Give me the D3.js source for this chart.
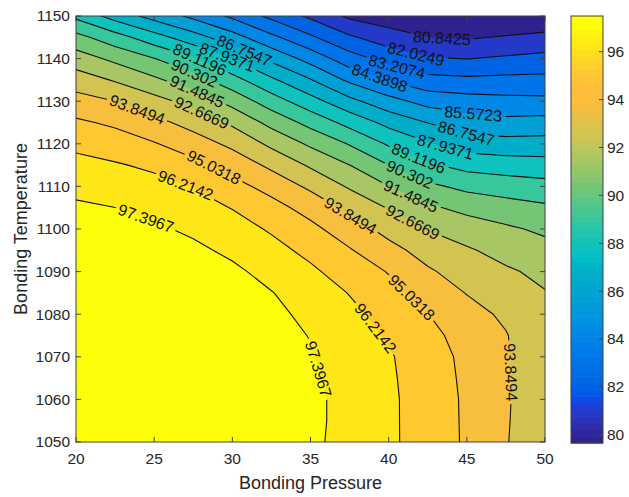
<!DOCTYPE html>
<meta charset="utf-8">
<script src="https://d3js.org/d3.v7.min.js"></script>
<style>
  body { margin: 0; background: #fff; }
  text { font-family: "Liberation Sans", Arial, Helvetica, sans-serif; fill: #262626; }
</style>
<div id="chart"></div>
<script>

// grid: columns = pressure, rows = temperature (top row first)
var pressures = [20, 22.5, 25, 27.5, 30, 32.5, 35, 37.5, 40, 42.5, 45, 47.5, 50];
var temperatures = [1150, 1145, 1140, 1135, 1130, 1125, 1120, 1115, 1110, 1105, 1100,
                    1095, 1090, 1085, 1080, 1075, 1070, 1065, 1060, 1055, 1050];
var zRows = [
  [88.85, 87.45, 86.32, 85.30, 84.17, 82.91, 81.80, 80.62, 80.20, 79.95, 79.80, 79.72, 79.68],
  [90.67, 89.62, 88.42, 87.23, 86.05, 84.67, 83.39, 82.20, 81.37, 80.85, 80.71, 80.94, 81.22],
  [92.05, 91.20, 90.33, 89.27, 87.90, 86.47, 85.12, 83.70, 82.78, 82.13, 82.00, 82.19, 82.35],
  [93.25, 92.56, 91.70, 90.83, 89.56, 88.15, 86.82, 85.33, 84.31, 83.57, 83.45, 83.51, 83.55],
  [94.31, 93.85, 93.08, 92.25, 91.08, 89.69, 88.40, 87.08, 85.99, 85.14, 84.88, 84.73, 84.67],
  [95.22, 94.83, 94.20, 93.41, 92.45, 91.12, 89.92, 88.72, 87.58, 86.72, 86.10, 85.90, 86.01],
  [95.96, 95.62, 95.11, 94.42, 93.58, 92.41, 91.28, 90.22, 88.97, 88.05, 87.36, 87.19, 87.22],
  [96.55, 96.32, 96.00, 95.36, 94.58, 93.59, 92.50, 91.49, 90.30, 89.30, 88.72, 88.52, 88.40],
  [97.06, 96.86, 96.58, 96.17, 95.43, 94.63, 93.62, 92.53, 91.51, 90.55, 90.00, 89.75, 89.53],
  [97.59, 97.40, 97.08, 96.68, 96.17, 95.43, 94.61, 93.55, 92.59, 91.69, 91.15, 90.78, 90.50],
  [97.65, 97.65, 97.58, 97.18, 96.67, 96.09, 95.33, 94.41, 93.47, 92.62, 92.10, 91.67, 91.27],
  [97.65, 97.65, 97.65, 97.65, 97.15, 96.56, 95.93, 95.12, 94.22, 93.40, 92.80, 92.28, 91.87],
  [97.65, 97.65, 97.65, 97.65, 97.64, 97.00, 96.41, 95.70, 94.97, 94.00, 93.35, 92.82, 92.40],
  [97.65, 97.65, 97.65, 97.65, 97.65, 97.44, 96.82, 96.17, 95.40, 94.61, 93.80, 93.20, 92.72],
  [97.65, 97.65, 97.65, 97.65, 97.65, 97.65, 97.14, 96.49, 95.79, 95.05, 94.32, 93.62, 92.78],
  [97.65, 97.65, 97.65, 97.65, 97.65, 97.65, 97.37, 96.74, 96.09, 95.34, 94.62, 93.92, 92.82],
  [97.65, 97.65, 97.65, 97.65, 97.65, 97.65, 97.46, 96.89, 96.33, 95.56, 94.76, 93.97, 92.85],
  [97.65, 97.65, 97.65, 97.65, 97.65, 97.65, 97.56, 96.96, 96.38, 95.63, 94.81, 94.00, 92.86],
  [97.65, 97.65, 97.65, 97.65, 97.65, 97.65, 97.65, 97.04, 96.42, 95.67, 94.86, 94.00, 92.86],
  [97.65, 97.65, 97.65, 97.65, 97.65, 97.65, 97.65, 97.04, 96.42, 95.68, 94.87, 93.97, 92.85],
  [97.65, 97.65, 97.65, 97.65, 97.65, 97.65, 97.62, 97.01, 96.42, 95.69, 94.88, 93.93, 92.83]
];

var levels = [80.8425, 82.0249, 83.2074, 84.3898, 85.5723, 86.7547, 87.9371, 89.1196,
              90.302, 91.4845, 92.6669, 93.8494, 95.0318, 96.2142, 97.3967];

// [level, pressure, temperature] where each inline label sits
var labelSpots = [
  [80.8425, 43.41, 1145.3], [82.0249, 41.75, 1141.1], [83.2074, 40.47, 1137.3],
  [84.3898, 39.32, 1134.3], [85.5723, 45.39, 1126.3],
  [86.7547, 30.81, 1142.3], [86.7547, 44.95, 1122.3],
  [87.9371, 29.72, 1140.8], [87.9371, 43.60, 1119.0],
  [89.1196, 27.93, 1139.9], [89.1196, 41.81, 1115.7],
  [90.302, 27.61, 1136.9], [90.302, 41.30, 1112.4],
  [91.4845, 27.74, 1132.2], [91.4845, 41.37, 1107.3],
  [92.6669, 28.12, 1127.9], [92.6669, 41.49, 1101.2],
  [93.8494, 23.97, 1128.6], [93.8494, 37.59, 1103.3], [93.8494, 47.95, 1066.4],
  [95.0318, 28.89, 1115.0], [95.0318, 41.49, 1084.0],
  [96.2142, 27.04, 1110.6], [96.2142, 39.25, 1077.0],
  [97.3967, 24.48, 1102.6], [97.3967, 35.48, 1067.1]
];

var xTicks = [20, 25, 30, 35, 40, 45, 50];
var yTicks = [1050, 1060, 1070, 1080, 1090, 1100, 1110, 1120, 1130, 1140, 1150];
var cbTicks = [80, 82, 84, 86, 88, 90, 92, 94, 96];
var colorRange = [79.66, 97.49];

var parula = ["#352a87","#363093","#3637a0","#353dad","#3243ba","#2c4ac7","#2053d4","#0f5cdd",
  "#0363e1","#0268e1","#046de0","#0871de","#0d75dc","#1079da","#127dd8","#1481d6",
  "#1485d4","#1389d3","#108ed2","#0c93d2","#0998d1","#079ccf","#06a0cd","#06a4ca",
  "#06a7c6","#07a9c2","#0aacbe","#0faeb9","#15b1b4","#1db3af","#25b5a9","#2eb7a4",
  "#38b99e","#42bb98","#4dbc92","#59bd8c","#65be86","#71bf80","#7cbf7b","#87bf77",
  "#92bf73","#9cbf6f","#a5be6b","#aebe67","#b7bd64","#c0bc60","#c8bc5d","#d1bb59",
  "#d9ba56","#e1b952","#e9b94e","#f1b94a","#f8bb44","#fdbe3d","#ffc337","#fec832",
  "#fcce2e","#fad32a","#f7d826","#f5de21","#f5e41d","#f5eb18","#f6f313","#f9fb0e"];

// the printed figure looks a little more saturated than plain parula
var palette = parula.map(function(c) {
  var h = d3.hsl(c);
  h.s = Math.min(1, h.s * 1.2);
  return h.formatHex();
});

var W = 629, H = 497;
var x = d3.scaleLinear().domain([20, 50]).range([76, 545]);
var y = d3.scaleLinear().domain([1050, 1150]).range([442, 16]);

function colorFor(v) {
  var i = Math.floor((v - colorRange[0]) / (colorRange[1] - colorRange[0]) * palette.length);
  return palette[Math.max(0, Math.min(palette.length - 1, i))];
}

var svg = d3.select("#chart").append("svg").attr("width", W).attr("height", H);
var defs = svg.append("defs");
defs.append("clipPath").attr("id", "plotClip").append("rect")
  .attr("x", x(20)).attr("y", y(1150))
  .attr("width", x(50) - x(20)).attr("height", y(1050) - y(1150));

// contour grid coords -> pixels (value index i sits at coord i + 0.5)
var nx = pressures.length, ny = temperatures.length;
var dp = pressures[1] - pressures[0], dt = temperatures[0] - temperatures[1];
function gridToPx(pt) {
  return [x(pressures[0] + (pt[0] - 0.5) * dp), y(temperatures[0] - (pt[1] - 0.5) * dt)];
}
var path = d3.geoPath(d3.geoTransform({
  point: function(px, py) { var p = gridToPx([px, py]); this.stream.point(p[0], p[1]); }
}));

var values = zRows.flat();
var bands = d3.contours().size([nx, ny])
  .thresholds([d3.min(values)].concat(levels))(values);
var contourByValue = new Map(bands.map(function(b) { return [b.value, b]; }));

// filled bands
svg.append("g").attr("clip-path", "url(#plotClip)")
  .selectAll("path").data(bands).join("path")
    .attr("d", path)
    .attr("fill", function(d) { return colorFor(d.value); });

// mask to cut the lines under the labels
var mask = defs.append("mask").attr("id", "labelGaps").attr("maskUnits", "userSpaceOnUse")
  .attr("x", 0).attr("y", 0).attr("width", W).attr("height", H);
mask.append("rect").attr("width", W).attr("height", H).attr("fill", "#fff");

svg.append("g").attr("clip-path", "url(#plotClip)")
  .append("g").attr("mask", "url(#labelGaps)")
  .selectAll("path").data(bands.slice(1)).join("path")
    .attr("d", path)
    .attr("fill", "none")
    .attr("stroke", "#111")
    .attr("stroke-width", 1.1);

// inline contour labels, snapped onto their line
var labelLayer = svg.append("g");
labelSpots.forEach(function(spot) {
  var geom = contourByValue.get(spot[0]);
  var target = [x(spot[1]), y(spot[2])];
  var best = null;
  geom.coordinates.forEach(function(poly) {
    poly.forEach(function(ring) {
      var pts = ring.map(gridToPx);
      for (var i = 0; i < pts.length - 1; i++) {
        var a = pts[i], b = pts[i + 1];
        var ddx = b[0] - a[0], ddy = b[1] - a[1], len2 = ddx * ddx + ddy * ddy;
        if (!len2) continue;
        var u = ((target[0] - a[0]) * ddx + (target[1] - a[1]) * ddy) / len2;
        u = Math.max(0, Math.min(1, u));
        var q = [a[0] + u * ddx, a[1] + u * ddy];
        var d = Math.hypot(q[0] - target[0], q[1] - target[1]);
        if (!best || d < best.d) {
          best = {d: d, q: q, ang: Math.atan2(ddy, ddx) * 180 / Math.PI};
        }
      }
    });
  });
  var ang = best.ang;
  if (ang > 90) ang -= 180;
  if (ang <= -90) ang += 180;
  var tf = "translate(" + best.q[0] + "," + best.q[1] + ") rotate(" + ang + ")";
  var t = labelLayer.append("text")
    .attr("transform", tf)
    .attr("text-anchor", "middle")
    .attr("dy", "0.35em")
    .style("font-size", "16px")
    .style("fill", "#111")
    .text(spot[0]);
  var w = t.node().getComputedTextLength();
  mask.append("rect")
    .attr("transform", tf)
    .attr("x", -w / 2 - 3).attr("y", -8)
    .attr("width", w + 6).attr("height", 16)
    .attr("fill", "#000");
});

// frame and inward ticks
var axisColor = "#404040";
svg.append("rect")
  .attr("x", x(20)).attr("y", y(1150))
  .attr("width", x(50) - x(20)).attr("height", y(1050) - y(1150))
  .attr("fill", "none").attr("stroke", axisColor).attr("stroke-width", 1);

var tickG = svg.append("g").attr("stroke", axisColor).attr("stroke-width", 1);
xTicks.forEach(function(p) {
  tickG.append("line").attr("x1", x(p)).attr("x2", x(p)).attr("y1", y(1050)).attr("y2", y(1050) - 5);
  tickG.append("line").attr("x1", x(p)).attr("x2", x(p)).attr("y1", y(1150)).attr("y2", y(1150) + 5);
});
yTicks.forEach(function(t) {
  tickG.append("line").attr("x1", x(20)).attr("x2", x(20) + 5).attr("y1", y(t)).attr("y2", y(t));
  tickG.append("line").attr("x1", x(50)).attr("x2", x(50) - 5).attr("y1", y(t)).attr("y2", y(t));
});

svg.append("g").selectAll("text").data(xTicks).join("text")
  .attr("x", function(d) { return x(d); })
  .attr("y", 464)
  .attr("text-anchor", "middle")
  .style("font-size", "15.5px")
  .text(function(d) { return d; });

svg.append("g").selectAll("text").data(yTicks).join("text")
  .attr("x", 70)
  .attr("y", function(d) { return y(d); })
  .attr("dy", "0.35em")
  .attr("text-anchor", "end")
  .style("font-size", "15.5px")
  .text(function(d) { return d; });

svg.append("text")
  .attr("x", (x(20) + x(50)) / 2).attr("y", 489)
  .attr("text-anchor", "middle")
  .style("font-size", "18px")
  .text("Bonding Pressure");

svg.append("text")
  .attr("transform", "translate(27," + (y(1050) + y(1150)) / 2 + ") rotate(-90)")
  .attr("text-anchor", "middle")
  .style("font-size", "18px")
  .text("Bonding Temperature");

// colorbar
var cbX = 571, cbW = 32;
var cb = d3.scaleLinear().domain(colorRange).range([443, 16]);
var step = (colorRange[1] - colorRange[0]) / palette.length;
svg.append("g").selectAll("rect").data(palette).join("rect")
  .attr("x", cbX)
  .attr("y", function(d, i) { return cb(colorRange[0] + (i + 1) * step); })
  .attr("width", cbW)
  .attr("height", cb(colorRange[0]) - cb(colorRange[0] + step) + 0.6)
  .attr("fill", function(d) { return d; });
svg.append("rect")
  .attr("x", cbX).attr("y", cb(colorRange[1]))
  .attr("width", cbW).attr("height", cb(colorRange[0]) - cb(colorRange[1]))
  .attr("fill", "none").attr("stroke", axisColor);
cbTicks.forEach(function(v) {
  svg.append("line").attr("x1", cbX + cbW - 4).attr("x2", cbX + cbW)
    .attr("y1", cb(v)).attr("y2", cb(v)).attr("stroke", axisColor);
});
svg.append("g").selectAll("text").data(cbTicks).join("text")
  .attr("x", cbX + cbW + 4)
  .attr("y", function(d) { return cb(d); })
  .attr("dy", "0.35em")
  .style("font-size", "15.5px")
  .text(function(d) { return d; });

</script>
